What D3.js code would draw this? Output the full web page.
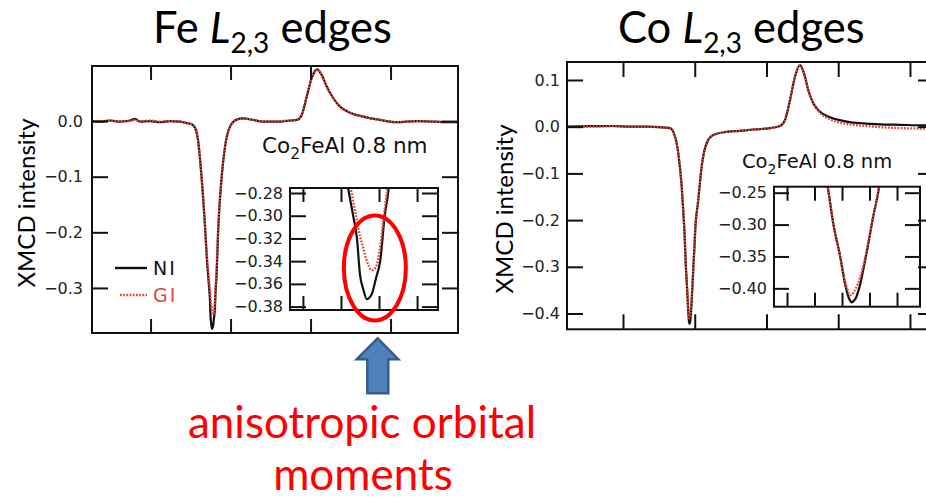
<!DOCTYPE html>
<html>
<head>
<meta charset="utf-8">
<script src="https://cdn.jsdelivr.net/npm/d3@7"></script>
<style>
  body { margin: 0; background: #fff; }
  svg { display: block; }
</style>
</head>
<body>
<svg id="chart" width="926" height="500"></svg>
<script>
// ---------- Fe L2,3 XMCD spectra (photon energy in eV, intensity) ----------
const feEnergy = [692.68, 693.68, 694.93, 696.18, 697.43, 698.06, 698.68, 699.93, 701.18, 702.43,
  703.68, 704.43, 705.18, 705.56, 705.93, 706.37, 706.81, 707.05, 707.21, 707.32,
  707.42, 707.50, 707.58, 707.68, 707.81, 707.92, 708.03, 708.15, 708.24, 708.47,
  708.89, 709.31, 709.93, 710.81, 711.56, 712.81, 714.06, 716.18, 717.43, 718.31,
  718.89, 719.52, 720.14, 720.56, 720.84, 721.12, 721.39, 722.02, 722.84, 723.68,
  724.93, 726.59, 728.68, 730.77, 733.27, 735.34, 737.84, 738.43];
const feNI = [0.000, -0.001, 0.001, -0.001, 0.001, 0.004, -0.001, 0.000, -0.002, 0.000,
  -0.001, -0.003, -0.006, -0.012, -0.034, -0.100, -0.190, -0.250, -0.280, -0.300,
  -0.320, -0.352, -0.364, -0.3735, -0.369, -0.355, -0.340, -0.300, -0.280, -0.190,
  -0.100, -0.046, -0.010, 0.003, 0.005, 0.002, -0.001, -0.001, 0.001, 0.002,
  0.011, 0.044, 0.077, 0.090, 0.093, 0.089, 0.083, 0.062, 0.041, 0.026,
  0.015, 0.008, 0.002, -0.002, 0.000, -0.001, -0.002, -0.002];
const feGI = [0.000, 0.000, 0.001, -0.001, 0.000, 0.002, -0.001, 0.001, -0.001, 0.000,
  -0.001, -0.003, -0.006, -0.012, -0.034, -0.100, -0.190, -0.245, -0.268, -0.287,
  -0.304, -0.318, -0.328, -0.340, -0.348, -0.345, -0.327, -0.294, -0.270, -0.190,
  -0.100, -0.046, -0.010, 0.003, 0.005, 0.002, -0.001, 0.000, 0.001, 0.002,
  0.011, 0.044, 0.077, 0.090, 0.093, 0.089, 0.083, 0.062, 0.041, 0.026,
  0.015, 0.008, 0.002, -0.002, 0.000, -0.001, -0.002, -0.002];

// ---------- Co L2,3 XMCD spectra ----------
const coEnergy = [762.20, 765.40, 768.65, 771.00, 773.30, 775.00, 776.55, 777.25, 777.71, 778.18,
  778.40, 778.58, 778.63, 778.76, 778.95, 779.08, 779.17, 779.22, 779.26, 779.33,
  779.38, 779.44, 779.47, 779.58, 779.72, 779.85, 779.99, 780.04, 780.49, 780.97,
  781.67, 782.59, 784.45, 786.31, 788.16, 790.49, 791.88, 792.58, 793.28, 793.97,
  794.67, 795.23, 795.83, 796.52, 797.46, 798.85, 801.18, 803.49, 805.82, 808.60,
  812.23, 813.35];
const coNI = [0.000, 0.001, 0.0015, 0.000, 0.000, -0.001, -0.003, -0.021, -0.057, -0.128,
  -0.180, -0.230, -0.248, -0.298, -0.350, -0.392, -0.4125, -0.419, -0.4219, -0.419,
  -0.415, -0.405, -0.3994, -0.3708, -0.329, -0.2875, -0.2484, -0.230, -0.157, -0.085,
  -0.035, -0.018, -0.011, -0.009, -0.006, -0.003, 0.0015, 0.014, 0.057, 0.107,
  0.132, 0.114, 0.078, 0.050, 0.032, 0.020, 0.011, 0.007, 0.005, 0.004,
  0.003, 0.003];
const coGI = [0.000, 0.000, 0.001, 0.000, 0.000, -0.001, -0.003, -0.021, -0.057, -0.128,
  -0.180, -0.230, -0.248, -0.298, -0.350, -0.389, -0.405, -0.4105, -0.410, -0.4047,
  -0.400, -0.3916, -0.387, -0.365, -0.327, -0.2875, -0.2484, -0.230, -0.157, -0.085,
  -0.035, -0.018, -0.011, -0.009, -0.006, -0.003, 0.0015, 0.014, 0.057, 0.107,
  0.132, 0.114, 0.078, 0.050, 0.030, 0.016, 0.006, 0.002, -0.001, -0.003,
  -0.004, -0.004];

// ---------- axis ticks ----------
const feMainYTicks = [0.0, -0.1, -0.2, -0.3];
const feMainXTicks = [700, 710, 720, 730];
const feInsetYTicks = [-0.28, -0.30, -0.32, -0.34, -0.36, -0.38];
const feInsetXTicks = [706, 707, 708, 709];
const coMainYTicks = [0.1, 0.0, -0.1, -0.2, -0.3, -0.4];
const coMainXTicks = [770, 780, 790, 800, 810];
const coInsetYTicks = [-0.25, -0.30, -0.35, -0.40];
const coInsetXTicks = [777.5, 778.25, 779.0, 779.75, 780.5];

const seriesNames = ["NI", "GI"];
const BLACK = "#111";
const RED = "#e5453b";
const PLOT_FONT = "'DejaVu Sans', sans-serif";
const SLIDE_FONT = "Lato, 'Open Sans', sans-serif";

const svg = d3.select("#chart");
const defs = svg.append("defs");

// Builds scales for one spectrum frame.
function frameScales(f) {
  return {
    x: d3.scaleLinear().domain(f.xDomain).range([f.left, f.right]),
    y: d3.scaleLinear().domain(f.yDomain).range([f.bottom, f.top])
  };
}

// Draws the NI (solid) and GI (dotted) spectra clipped to a frame.
function drawCurves(g, f, s, energy, ni, gi) {
  defs.append("clipPath").attr("id", f.id)
    .append("rect")
    .attr("x", f.left).attr("y", f.top)
    .attr("width", f.right - f.left).attr("height", f.bottom - f.top);
  const line = d3.line()
    .x(d => s.x(d[0])).y(d => s.y(d[1]))
    .curve(d3.curveMonotoneX);
  const cg = g.append("g").attr("clip-path", `url(#${f.id})`);
  cg.append("path").datum(d3.zip(energy, ni))
    .attr("d", line).attr("fill", "none")
    .attr("stroke", BLACK).attr("stroke-width", 2.2)
    .attr("stroke-linejoin", "round");
  cg.append("path").datum(d3.zip(energy, gi))
    .attr("d", line).attr("fill", "none")
    .attr("stroke", RED).attr("stroke-width", 2.3)
    .attr("stroke-dasharray", "1.8,1.4");
}

// Draws the box, inward ticks on all four sides and left tick labels.
function drawFrame(g, f, s) {
  g.append("rect")
    .attr("x", f.left).attr("y", f.top)
    .attr("width", f.right - f.left).attr("height", f.bottom - f.top)
    .attr("fill", "none").attr("stroke", BLACK).attr("stroke-width", 2);

  const style = sel => {
    sel.select(".domain").remove();
    sel.selectAll(".tick line").attr("stroke", BLACK).attr("stroke-width", 2);
    sel.selectAll(".tick text")
      .attr("fill", "#222")
      .style("font-family", PLOT_FONT)
      .style("font-size", f.fontSize + "px");
  };

  g.append("g").attr("transform", `translate(${f.left},0)`)
    .call(d3.axisLeft(s.y).tickValues(f.yTicks).tickSize(-f.yTickLen)
      .tickPadding(f.labelGap).tickFormat(d3.format(f.yFormat)))
    .call(style);
  g.append("g").attr("transform", `translate(${f.right},0)`)
    .call(d3.axisRight(s.y).tickValues(f.yTicks).tickSize(-f.yTickLen).tickFormat(""))
    .call(style);
  g.append("g").attr("transform", `translate(0,${f.top})`)
    .call(d3.axisTop(s.x).tickValues(f.xTicks).tickSize(-f.xTickLen).tickFormat(""))
    .call(style);
  g.append("g").attr("transform", `translate(0,${f.bottom})`)
    .call(d3.axisBottom(s.x).tickValues(f.xTicks).tickSize(-f.xTickLen).tickFormat(""))
    .call(style);
}

// Sample label "Co2FeAl 0.8 nm" with a subscript.
function sampleLabel(g, x, y, size) {
  const t = g.append("text").attr("x", x).attr("y", y)
    .style("font-family", PLOT_FONT).style("font-size", size + "px").attr("fill", "#111");
  t.append("tspan").text("Co");
  t.append("tspan").attr("dy", size * 0.3).style("font-size", (size * 0.72) + "px").text("2");
  t.append("tspan").attr("dy", -size * 0.3).text("FeAl 0.8 nm");
}

// Panel title such as "Fe L2,3 edges".
function title(g, x, y, element) {
  const t = g.append("text").attr("x", x).attr("y", y)
    .style("font-family", SLIDE_FONT).style("font-size", "43.5px").attr("fill", "#000");
  t.append("tspan").text(element + " ");
  t.append("tspan").style("font-style", "italic").text("L");
  t.append("tspan").attr("dy", 10).style("font-size", "28px").text("2,3");
  t.append("tspan").attr("dy", -10).text(" edges");
}

function yTitle(g, cx, cy) {
  g.append("text")
    .attr("transform", `translate(${cx},${cy}) rotate(-90)`)
    .attr("text-anchor", "middle").attr("dominant-baseline", "central")
    .style("font-family", SLIDE_FONT).style("font-size", "24px").attr("fill", "#000")
    .text("XMCD intensity");
}

// ================= Fe panel =================
const feMain = { id: "clip-fe-main", left: 92, right: 458, top: 66, bottom: 333,
  xDomain: [692.68, 738.43], yDomain: [-0.381, 0.099],
  xTicks: feMainXTicks, yTicks: feMainYTicks, yFormat: ".1f",
  xTickLen: 14, yTickLen: 16, labelGap: 9, fontSize: 16 };
const feInset = { id: "clip-fe-inset", left: 290, right: 438, top: 188, bottom: 310,
  xDomain: [705.66, 709.55], yDomain: [-0.383, -0.2756],
  xTicks: feInsetXTicks, yTicks: feInsetYTicks, yFormat: ".2f",
  xTickLen: 14, yTickLen: 16, labelGap: 7, fontSize: 16 };

const gFe = svg.append("g");
const feS = frameScales(feMain);
drawCurves(gFe, feMain, feS, feEnergy, feNI, feGI);
const gFeInset = gFe.append("g");
const feIS = frameScales(feInset);
gFeInset.append("rect").attr("x", feInset.left).attr("y", feInset.top)
  .attr("width", feInset.right - feInset.left).attr("height", feInset.bottom - feInset.top)
  .attr("fill", "#fff");
drawCurves(gFeInset, feInset, feIS, feEnergy, feNI, feGI);
drawFrame(gFeInset, feInset, feIS);
drawFrame(gFe, feMain, feS);
sampleLabel(gFe, 262, 153, 21.5);
title(gFe, 153, 43, "Fe");
yTitle(gFe, 25, 203);

// Legend
const legend = gFe.append("g");
const legendRows = [
  { name: seriesNames[0], color: BLACK, dash: null, x0: 115, x1: 147, y: 268 },
  { name: seriesNames[1], color: RED, dash: "1.8,1.4", x0: 120, x1: 147, y: 295 }
];
legendRows.forEach(r => {
  legend.append("line").attr("x1", r.x0).attr("x2", r.x1).attr("y1", r.y).attr("y2", r.y)
    .attr("stroke", r.color).attr("stroke-width", 2.4)
    .attr("stroke-dasharray", r.dash);
  legend.append("text").attr("x", 153).attr("y", r.y).attr("dy", "0.36em")
    .style("font-family", PLOT_FONT).style("font-size", "19px")
    .style("letter-spacing", "2px")
    .attr("fill", r.color === BLACK ? "#111" : "#e0483e").text(r.name);
});

// Highlight of the NI / GI minima in the inset
const feNIMinIdx = d3.minIndex(feNI);
gFe.append("ellipse")
  .attr("cx", feIS.x(feEnergy[feNIMinIdx]) + 8).attr("cy", 268)
  .attr("rx", 31).attr("ry", 52.5)
  .attr("fill", "none").attr("stroke", "#ff0000").attr("stroke-width", 4);

// ================= Co panel =================
const coMain = { id: "clip-co-main", left: 567, right: 934, top: 62, bottom: 329.3,
  xDomain: [762.195, 813.35], yDomain: [-0.4338, 0.1385],
  xTicks: coMainXTicks, yTicks: coMainYTicks, yFormat: ".1f",
  xTickLen: 15, yTickLen: 16, labelGap: 7, fontSize: 16 };
const coInset = { id: "clip-co-inset", left: 774, right: 920, top: 186.7, bottom: 306.7,
  xDomain: [777.145, 781.127], yDomain: [-0.4288, -0.2406],
  xTicks: coInsetXTicks, yTicks: coInsetYTicks, yFormat: ".2f",
  xTickLen: 14, yTickLen: 15, labelGap: 7, fontSize: 16 };

const gCo = svg.append("g");
const coS = frameScales(coMain);
drawCurves(gCo, coMain, coS, coEnergy, coNI, coGI);
const gCoInset = gCo.append("g");
const coIS = frameScales(coInset);
gCoInset.append("rect").attr("x", coInset.left).attr("y", coInset.top)
  .attr("width", coInset.right - coInset.left).attr("height", coInset.bottom - coInset.top)
  .attr("fill", "#fff");
drawCurves(gCoInset, coInset, coIS, coEnergy, coNI, coGI);
drawFrame(gCoInset, coInset, coIS);
drawFrame(gCo, coMain, coS);
sampleLabel(gCo, 742, 168, 19.5);
title(gCo, 618, 43, "Co");
yTitle(gCo, 503, 209);

// ================= Annotation =================
const ann = svg.append("g");
ann.append("path")
  .attr("d", "M377.7,338.3 L398.3,359.3 L388.3,359.3 L388.3,393.3 L367.3,393.3 L367.3,359.3 L356.7,359.3 Z")
  .attr("fill", "#4f81bd").attr("stroke", "#385d8a").attr("stroke-width", 2.5)
  .attr("stroke-linejoin", "miter");
const annText = ann.append("text")
  .attr("text-anchor", "middle")
  .style("font-family", SLIDE_FONT).style("font-size", "44px").attr("fill", "#ff0000");
annText.append("tspan").attr("x", 362).attr("y", 438).text("anisotropic orbital");
annText.append("tspan").attr("x", 363).attr("y", 490).text("moments");
</script>
</body>
</html>
